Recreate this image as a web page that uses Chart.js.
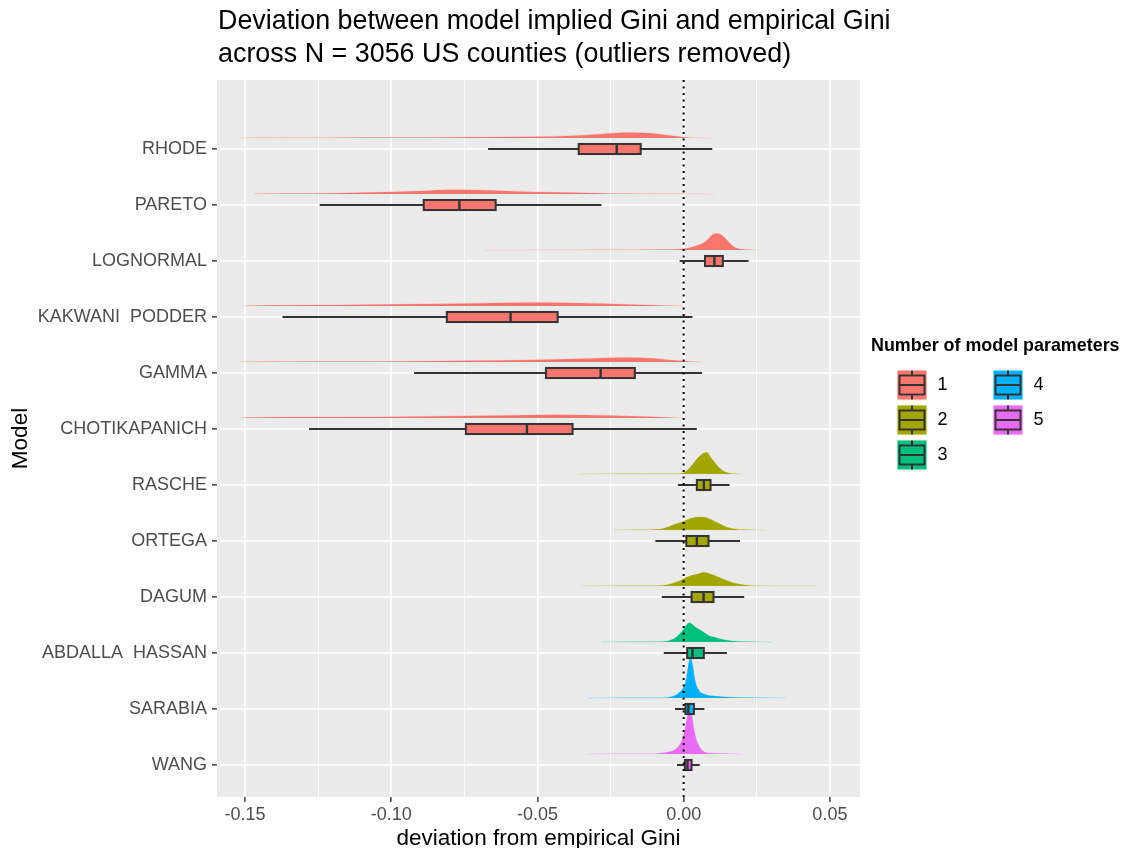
<!DOCTYPE html>
<html>
<head>
<meta charset="utf-8">
<script src="https://cdn.jsdelivr.net/npm/chart.js@4.4.1/dist/chart.umd.min.js"></script>
<style>
  body { margin: 0; background: #fff; }
  canvas { display: block; }
</style>
</head>
<body>
<canvas id="giniChart" width="1122" height="848"></canvas>
<script>
// models, top to bottom
const models = ['RHODE', 'PARETO', 'LOGNORMAL', 'KAKWANI  PODDER', 'GAMMA', 'CHOTIKAPANICH',
                'RASCHE', 'ORTEGA', 'DAGUM', 'ABDALLA  HASSAN', 'SARABIA', 'WANG'];
const paramCount = [1, 1, 1, 1, 1, 1, 2, 2, 2, 3, 4, 5];
const paramLabels = ['1', '2', '3', '4', '5'];
const paramColors = ['#F8766D', '#A3A500', '#00BF7D', '#00B0F6', '#E76BF3'];
const titleLines = ['Deviation between model implied Gini and empirical Gini',
                    'across N = 3056 US counties (outliers removed)'];

// boxplot stats (deviation from empirical Gini)
const whiskerLo = [-0.0669, -0.1245, -0.0014, -0.1372, -0.0922, -0.1281, -0.0020, -0.0097, -0.0075, -0.0068, -0.0030, -0.0023];
const q1 =        [-0.0359, -0.0889,  0.0073, -0.0810, -0.0471, -0.0745,  0.0045,  0.0009,  0.0027,  0.0012,  0.0006,  0.0004];
const medians =   [-0.0229, -0.0767,  0.0105, -0.0592, -0.0284, -0.0536,  0.0069,  0.0045,  0.0068,  0.0030,  0.0016,  0.0013];
const q3 =        [-0.0147, -0.0643,  0.0134, -0.0431, -0.0167, -0.0380,  0.0092,  0.0085,  0.0102,  0.0069,  0.0035,  0.0027];
const whiskerHi = [ 0.0098, -0.0281,  0.0222,  0.0030,  0.0063,  0.0045,  0.0157,  0.0193,  0.0207,  0.0148,  0.0071,  0.0055];

// density ridges: x positions and density values, one list per model
const densityX = [
  [-0.152, -0.140, -0.120, -0.099, -0.076, -0.053, -0.036, -0.0245, -0.0188, -0.0108, -0.004, 0.0006, 0.0097],
  [-0.147, -0.1454, -0.1267, -0.1122, -0.0978, -0.0878, -0.0805, -0.0705, -0.0589, -0.0445, -0.0258, -0.0042, 0.0102],
  [-0.068, -0.040, -0.0222, -0.008, 0, 0.004, 0.0074, 0.0097, 0.0108, 0.0125, 0.0143, 0.0165, 0.0188, 0.0234, 0.026],
  [-0.151, -0.149, -0.1195, -0.0906, -0.069, -0.0503, -0.033, -0.0186, -0.0071, 0.0005],
  [-0.152, -0.1497, -0.105, -0.0762, -0.0546, -0.0359, -0.020, -0.0099, -0.0013, 0.0059],
  [-0.152, -0.1497, -0.1195, -0.0906, -0.0618, -0.0431, -0.0258, -0.0114, -0.0027, 0.0005],
  [-0.036, -0.0348, -0.010, -0.0028, 0, 0.0028, 0.0051, 0.0078, 0.0097, 0.012, 0.0143, 0.0188, 0.020],
  [-0.024, -0.0222, -0.0131, -0.0074, -0.0028, 0, 0.0028, 0.0051, 0.0074, 0.0097, 0.012, 0.0143, 0.0177, 0.0233, 0.0279],
  [-0.035, -0.0336, -0.0097, -0.0051, -0.0017, 0, 0.0028, 0.0051, 0.0068, 0.0097, 0.012, 0.0154, 0.0188, 0.0233, 0.0438, 0.045],
  [-0.028, -0.0268, -0.0085, -0.0051, -0.0028, -0.0011, 0, 0.0019, 0.0039, 0.0062, 0.0085, 0.0108, 0.0143, 0.0188, 0.0279, 0.030],
  [-0.033, -0.0313, -0.0085, -0.004, -0.0018, 0, 0.001, 0.0019, 0.0024, 0.003, 0.0039, 0.0051, 0.0074, 0.0097, 0.0131, 0.0188, 0.0336, 0.035],
  [-0.033, -0.0313, -0.0131, -0.0063, -0.0028, -0.0011, 0, 0.001, 0.0019, 0.0027, 0.0036, 0.0048, 0.0062, 0.0074, 0.012, 0.0188, 0.020]
];
const densityY = [
  [0, 1.2, 1.6, 2.2, 3.6, 5.8, 12, 22, 25, 21, 10, 3, 0],
  [0, 1.3, 3, 6, 10, 15, 19, 18, 13, 7.6, 3, 1.3, 0],
  [0, 0.6, 1, 2.5, 6, 18, 37, 67, 74, 71, 52, 22, 6, 1.3, 0],
  [0, 1.3, 4.5, 9, 13, 16.5, 13, 7.6, 3, 0],
  [0, 1.3, 3, 6, 9, 15, 21, 16.5, 6, 0],
  [0, 3, 4.5, 7.6, 12, 15, 12, 6, 1.3, 0],
  [0, 0.8, 1, 1.3, 6, 39, 76, 98, 67, 31, 9, 0.8, 0],
  [0, 0.8, 1.5, 6, 27, 40, 54, 59, 57, 45, 30, 15, 4.5, 1.3, 0],
  [0, 0.8, 1.3, 7.6, 22, 33, 48, 55, 62, 52, 40, 22, 9, 2, 0.6, 0],
  [0, 0.8, 1.3, 6, 19, 41, 59, 86, 68, 49, 30, 21, 9, 3, 0.8, 0],
  [0, 0.8, 1.3, 7.6, 22, 49, 94, 168, 178, 152, 79, 37, 16, 10, 6, 3, 0.8, 0],
  [0, 0.8, 1.3, 7.6, 22, 49, 86, 152, 186, 174, 107, 49, 19, 7.6, 3, 0.8, 0]
];

const xMajorTicks = [-0.15, -0.10, -0.05, 0.00, 0.05];
const xTickLabels = ['-0.15', '-0.10', '-0.05', '0.00', '0.05'];
const xMinorTicks = [-0.125, -0.075, -0.025, 0.025];

const ridgeOffset = 0.195;   // ridge baseline sits above the box
const ridgeScale = 250;      // density units per row
const boxHalf = 0.09;        // box half-height in rows
const nModels = models.length;
const rowPos = i => nModels - i;
const colorOf = i => paramColors[paramCount[i] - 1];
const fontFamily = '"Liberation Sans", Arial, sans-serif';

const datasets = models.map((m, i) => {
  const base = rowPos(i) + ridgeOffset;
  return {
    label: m,
    data: densityX[i].map((x, k) => ({ x: x, y: base + densityY[i][k] / ridgeScale })),
    showLine: true,
    fill: { value: base },
    backgroundColor: colorOf(i),
    borderColor: colorOf(i) + '55',
    borderWidth: 0.6,
    pointRadius: 0,
    pointHoverRadius: 0,
    cubicInterpolationMode: 'monotone'
  };
});

// grey panel behind the grid
const panelPlugin = {
  id: 'panel',
  beforeDraw(chart) {
    const { ctx, chartArea: a } = chart;
    ctx.save();
    ctx.fillStyle = '#EBEBEB';
    ctx.fillRect(a.left, a.top, a.right - a.left, a.bottom - a.top);
    ctx.restore();
  }
};

// boxplots, zero line, title and legend
const boxPlugin = {
  id: 'boxes',
  afterDatasetsDraw(chart) {
    const { ctx, chartArea: a, scales: { x, y } } = chart;
    ctx.save();
    ctx.beginPath();
    ctx.rect(a.left, a.top, a.right - a.left, a.bottom - a.top);
    ctx.clip();
    ctx.strokeStyle = '#333333';
    models.forEach((m, i) => {
      const yc = y.getPixelForValue(rowPos(i));
      const yt = y.getPixelForValue(rowPos(i) + boxHalf);
      const yb = y.getPixelForValue(rowPos(i) - boxHalf);
      ctx.lineWidth = 2;
      ctx.beginPath();
      ctx.moveTo(x.getPixelForValue(whiskerLo[i]), yc);
      ctx.lineTo(x.getPixelForValue(whiskerHi[i]), yc);
      ctx.stroke();
      const x1 = x.getPixelForValue(q1[i]);
      const x3 = x.getPixelForValue(q3[i]);
      ctx.fillStyle = colorOf(i);
      ctx.fillRect(x1, yt, x3 - x1, yb - yt);
      ctx.lineWidth = 2;
      ctx.strokeRect(x1, yt, x3 - x1, yb - yt);
      const xm = x.getPixelForValue(medians[i]);
      ctx.lineWidth = 2.4;
      ctx.beginPath();
      ctx.moveTo(xm, yt);
      ctx.lineTo(xm, yb);
      ctx.stroke();
    });
    // dotted reference line at zero
    const x0 = x.getPixelForValue(0);
    ctx.strokeStyle = '#000';
    ctx.lineWidth = 2;
    ctx.setLineDash([2, 4.5]);
    ctx.beginPath();
    ctx.moveTo(x0, a.top);
    ctx.lineTo(x0, a.bottom);
    ctx.stroke();
    ctx.restore();
  },
  afterDraw(chart) {
    const ctx = chart.ctx;
    const a = chart.chartArea;
    ctx.save();
    ctx.textBaseline = 'middle';
    ctx.textAlign = 'left';
    ctx.fillStyle = '#000';
    ctx.font = '26.9px ' + fontFamily;
    titleLines.forEach((t, k) => ctx.fillText(t, a.left + 1, 22 + k * 33));

    const left = a.right + 11;
    ctx.font = 'bold 17.9px ' + fontFamily;
    ctx.fillText('Number of model parameters', left, 346);
    paramLabels.forEach((lab, k) => {
      const kx = left + 25.5 + Math.floor(k / 3) * 96;
      const ky = 369.5 + (k % 3) * 35;
      const s = 31;
      ctx.fillStyle = '#F2F2F2';
      ctx.fillRect(kx, ky, s, s);
      ctx.fillStyle = paramColors[k];
      ctx.fillRect(kx + 1, ky + 1, s - 2, s - 2);
      ctx.strokeStyle = '#333333';
      ctx.lineWidth = 1.9;
      ctx.beginPath();
      ctx.moveTo(kx + s / 2, ky + 1);
      ctx.lineTo(kx + s / 2, ky + 6);
      ctx.moveTo(kx + s / 2, ky + s - 6);
      ctx.lineTo(kx + s / 2, ky + s - 1);
      ctx.moveTo(kx + 3, ky + s / 2);
      ctx.lineTo(kx + s - 3, ky + s / 2);
      ctx.stroke();
      ctx.strokeRect(kx + 3, ky + 6, s - 6, s - 12);
      ctx.fillStyle = '#000';
      ctx.font = '18px ' + fontFamily;
      ctx.fillText(lab, kx + s + 10, ky + s / 2);
    });
    ctx.restore();
  }
};

new Chart(document.getElementById('giniChart'), {
  type: 'scatter',
  data: { datasets: datasets },
  options: {
    responsive: false,
    animation: false,
    events: [],
    layout: { padding: { left: 0, right: 262, top: 80, bottom: 0 } },
    plugins: {
      legend: { display: false },
      tooltip: { enabled: false },
      title: { display: false }
    },
    scales: {
      x: {
        type: 'linear',
        min: -0.1596,
        max: 0.0603,
        afterBuildTicks(scale) {
          scale.ticks = xMajorTicks.concat(xMinorTicks).sort((p, q) => p - q).map(v => ({ value: v }));
        },
        afterFit(scale) { scale.height = 51; },
        border: { display: false },
        grid: {
          color: '#FFFFFF',
          lineWidth: c => (xMajorTicks.includes(c.tick.value) ? 1.8 : 0.9),
          tickColor: c => (xMajorTicks.includes(c.tick.value) ? '#333333' : 'rgba(0,0,0,0)'),
          tickLength: 5,
          tickWidth: 1.4
        },
        ticks: {
          autoSkip: false,
          maxRotation: 0,
          padding: 2,
          color: '#4D4D4D',
          font: { family: fontFamily, size: 18 },
          callback: v => {
            const k = xMajorTicks.indexOf(v);
            return k >= 0 ? xTickLabels[k] : '';
          }
        },
        title: {
          display: true,
          text: 'deviation from empirical Gini',
          color: '#000',
          font: { family: fontFamily, size: 22.5, lineHeight: 1 },
          padding: { top: 0, bottom: -2 }
        }
      },
      y: {
        type: 'linear',
        min: 0.429,
        max: 13.232,
        afterBuildTicks(scale) {
          scale.ticks = models.map((m, i) => ({ value: rowPos(i) }));
        },
        afterFit(scale) { scale.width = 217; },
        border: { display: false },
        grid: {
          color: '#FFFFFF',
          lineWidth: 1.8,
          tickColor: '#333333',
          tickLength: 5,
          tickWidth: 1.4
        },
        ticks: {
          autoSkip: false,
          padding: 5,
          color: '#4D4D4D',
          font: { family: fontFamily, size: 18 },
          callback: v => models[nModels - v]
        },
        title: {
          display: true,
          text: 'Model',
          color: '#000',
          font: { family: fontFamily, size: 22.5, lineHeight: 1 },
          padding: { top: 10, bottom: 0 }
        }
      }
    }
  },
  plugins: [panelPlugin, boxPlugin]
});
</script>
</body>
</html>
